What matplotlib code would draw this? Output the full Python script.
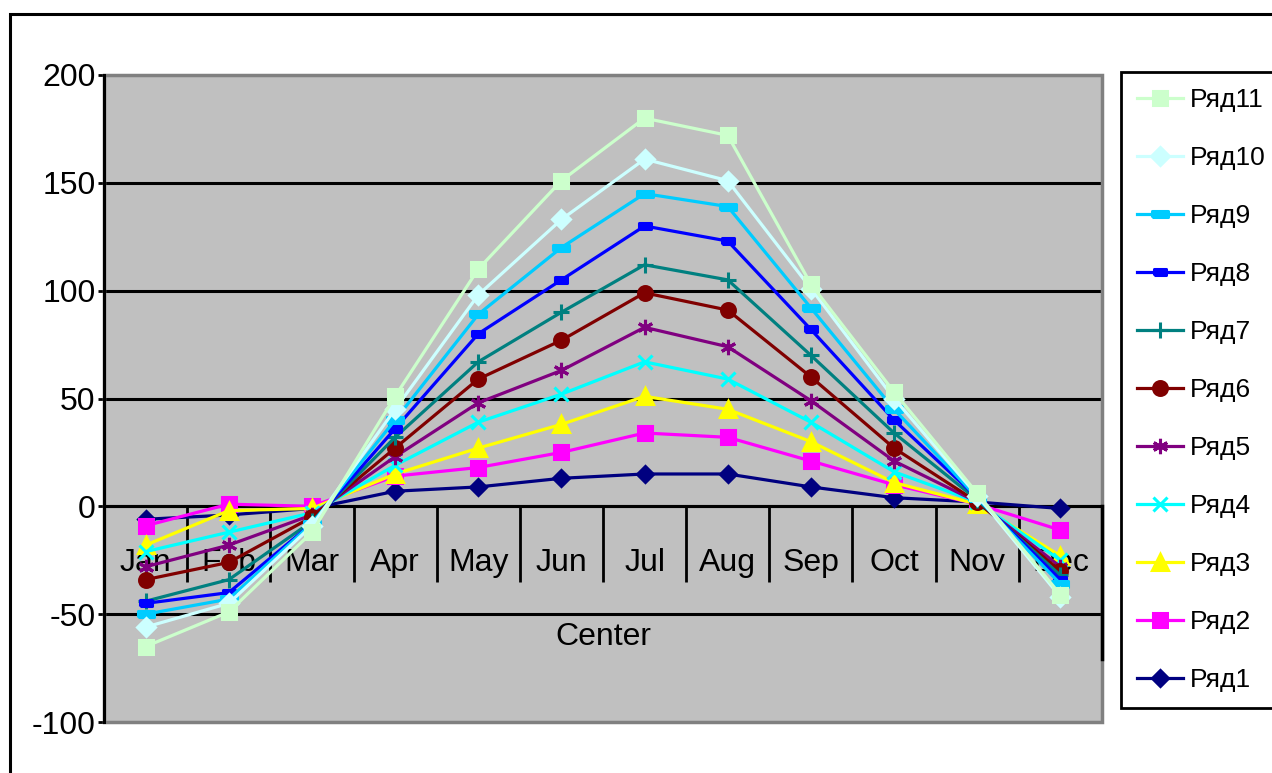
import matplotlib.pyplot as plt
from matplotlib.patches import Rectangle

plt.rcParams['font.family'] = ['Liberation Sans', 'DejaVu Sans']
plt.rcParams['axes.unicode_minus'] = False

months = ['Jan', 'Feb', 'Mar', 'Apr', 'May', 'Jun', 'Jul', 'Aug', 'Sep', 'Oct', 'Nov', 'Dec']

r1 = [-6, -4, -1, 7, 9, 13, 15, 15, 9, 4, 2, -1]
r2 = [-9, 1, 0, 14, 18, 25, 34, 32, 21, 10, 1, -11]
r3 = [-18, -2, -1, 15, 27, 38, 51, 45, 30, 11, 1, -23]
r4 = [-21, -12, -3, 19, 39, 52, 67, 59, 39, 16, 2, -25]
r5 = [-28, -18, -4, 23, 48, 63, 83, 74, 49, 21, 2, -28]
r6 = [-34, -26, -5, 27, 59, 77, 99, 91, 60, 27, 2, -30]
r7 = [-44, -34, -7, 32, 67, 90, 112, 105, 70, 34, 3, -32]
r8 = [-45, -40, -8, 36, 80, 105, 130, 123, 82, 40, 4, -34]
r9 = [-50, -43, -8, 40, 89, 120, 145, 139, 92, 45, 4, -36]
r10 = [-56, -45, -9, 45, 98, 133, 161, 151, 101, 50, 5, -42]
r11 = [-65, -49, -12, 51, 110, 151, 180, 172, 103, 53, 6, -41]

names = ['Ряд1', 'Ряд2', 'Ряд3', 'Ряд4', 'Ряд5', 'Ряд6',
         'Ряд7', 'Ряд8', 'Ряд9', 'Ряд10', 'Ряд11']
data = [r1, r2, r3, r4, r5, r6, r7, r8, r9, r10, r11]
colors = ['#000080', '#FF00FF', '#FFFF00', '#00FFFF', '#800080', '#800000',
          '#008080', '#0000FF', '#00CCFF', '#CCFFFF', '#CCFFCC']

# small filled rectangles for the Excel "dash" markers
dash_small = [(-1, -0.55), (1, -0.55), (1, 0.55), (-1, 0.55), (-1, -0.55)]
dash_wide = [(-1, -0.45), (1, -0.45), (1, 0.45), (-1, 0.45), (-1, -0.45)]
markers = ['D', 's', '^', 'x', (6, 2, 0), 'o', '+', dash_small, dash_wide, 'D', 's']
msizes = [8, 10, 11, 10, 11, 10, 11, 8, 11, 9, 10]

fig = plt.figure(figsize=(12.72, 7.73), dpi=100)
ax = fig.add_axes([104 / 1272, 1 - 722 / 773, (1102 - 104) / 1272, (722 - 75) / 773])
ax.set_facecolor('#C0C0C0')

x = [i + 0.5 for i in range(len(months))]
for name, vals, c, m, ms in zip(names, data, colors, markers, msizes):
    ax.plot(x, vals, color=c, lw=2.3, marker=m, ms=ms, mfc=c, mec=c,
            mew=2.2, label=name, clip_on=False, zorder=3)

ax.set_xlim(0, 12)
ax.set_ylim(-100, 200)
ax.set_yticks([-100, -50, 0, 50, 100, 150, 200])
ax.yaxis.grid(True, color='black', lw=2.2)
ax.set_axisbelow(True)
gl = ax.get_ygridlines()
gl[0].set_visible(False)
gl[-1].set_visible(False)

for s in ['top', 'right']:
    ax.spines[s].set_visible(False)
ax.spines['left'].set_color('black')
ax.spines['left'].set_linewidth(2.2)
ax.spines['bottom'].set_position(('data', 0))
ax.spines['bottom'].set_linewidth(2.2)
ax.add_patch(Rectangle((0, 0), 1, 1, transform=ax.transAxes, fill=False,
                       ec='#808080', lw=2.5, clip_on=False, zorder=1))
ax.axvline(12, ymin=29 / 300, ymax=100 / 300, color='black', lw=2.5,
           clip_on=False, zorder=2)

ax.set_xticks(x)
ax.set_xticklabels(months)
ax.set_xticks(range(1, 12), minor=True)
ax.tick_params(axis='x', which='major', length=0, pad=30, labelsize=23)
ax.tick_params(axis='x', which='minor', length=55, width=2, direction='out',
               color='black')
ax.tick_params(axis='y', length=4, width=2, direction='out', labelsize=23, pad=2)
ax.set_xlabel('Center', fontsize=23, labelpad=25)

h, l = ax.get_legend_handles_labels()
leg = fig.legend(h[::-1], l[::-1], loc='upper left',
                 bbox_to_anchor=(1121 / 1272, 1 - 72 / 773, 0.2, 0),
                 mode='expand', borderaxespad=0, fontsize=19, numpoints=1,
                 handlelength=1.75, handletextpad=0.25, labelspacing=1.29,
                 borderpad=0.6, fancybox=False, framealpha=1,
                 edgecolor='black')
leg.get_frame().set_linewidth(2)

fig.patches.append(Rectangle((10 / 1272, -0.05), 1.0, 1 - 14 / 773 + 0.05,
                             transform=fig.transFigure, fill=False,
                             ec='black', lw=2.2))

fig.savefig('out.png', dpi=100)
